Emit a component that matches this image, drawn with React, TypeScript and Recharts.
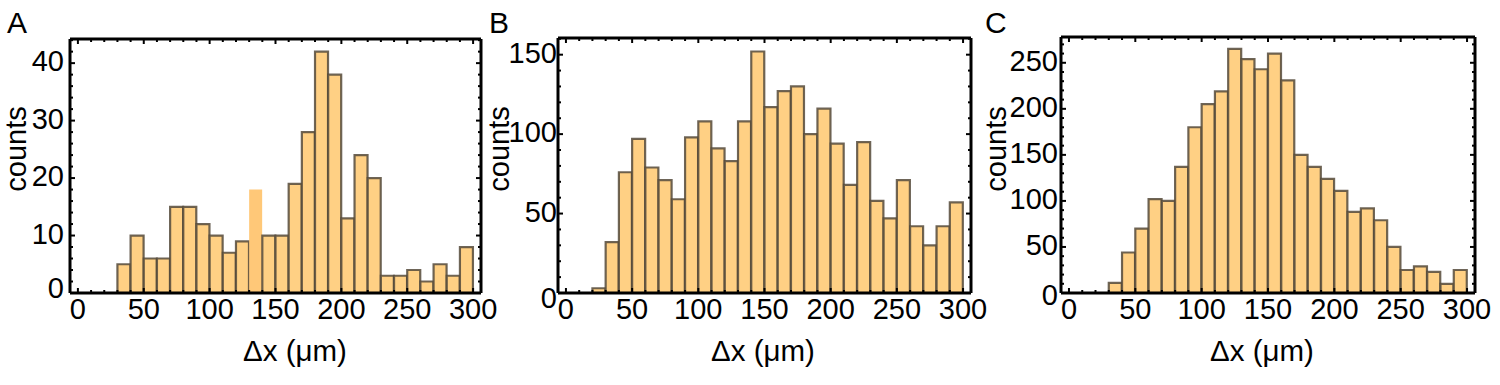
import React from 'react';
import { BarChart, Bar, XAxis, YAxis, Cell } from 'recharts';

// bin left edges (µm), bins are 10 µm wide
const binStartsA = [30, 40, 50, 60, 70, 80, 90, 100, 110, 120, 130, 140, 150, 160, 170, 180, 190, 200, 210, 220, 230, 240, 250, 260, 270, 280, 290];
const countsA = [5, 10, 6, 6, 15, 15, 12, 10, 7, 9, 18, 10, 10, 19, 28, 42, 38, 13, 24, 20, 3, 3, 4, 2, 5, 3, 8];
const unframedBinsA = [130];

const binStartsB = [20, 30, 40, 50, 60, 70, 80, 90, 100, 110, 120, 130, 140, 150, 160, 170, 180, 190, 200, 210, 220, 230, 240, 250, 260, 270, 280, 290];
const countsB = [3, 32, 76, 97, 79, 71, 59, 98, 108, 91, 83, 108, 152, 117, 127, 130, 100, 116, 94, 68, 95, 58, 47, 71, 42, 30, 42, 57];

const binStartsC = [30, 40, 50, 60, 70, 80, 90, 100, 110, 120, 130, 140, 150, 160, 170, 180, 190, 200, 210, 220, 230, 240, 250, 260, 270, 280, 290];
const countsC = [11, 44, 70, 102, 100, 137, 180, 205, 219, 265, 254, 243, 260, 231, 150, 137, 124, 111, 88, 92, 79, 50, 25, 29, 23, 10, 25];

const xTicks = [0, 50, 100, 150, 200, 250, 300];
const xMinorTicks = [0, 10, 20, 30, 40, 50, 60, 70, 80, 90, 100, 110, 120, 130, 140, 150, 160, 170, 180, 190, 200, 210, 220, 230, 240, 250, 260, 270, 280, 290, 300];

const yTicksA = [0, 10, 20, 30, 40];
const yMinorA = [0, 2, 4, 6, 8, 10, 12, 14, 16, 18, 20, 22, 24, 26, 28, 30, 32, 34, 36, 38, 40, 42, 44];
const yTicksB = [0, 50, 100, 150];
const yMinorB = [0, 10, 20, 30, 40, 50, 60, 70, 80, 90, 100, 110, 120, 130, 140, 150, 160];
const yTicksC = [0, 50, 100, 150, 200, 250];
const yMinorC = [0, 10, 20, 30, 40, 50, 60, 70, 80, 90, 100, 110, 120, 130, 140, 150, 160, 170, 180, 190, 200, 210, 220, 230, 240, 250, 260, 270];

const xDomain = [-6, 306];
const FONT = '"Liberation Sans", Arial, Helvetica, sans-serif';
const FILL = '#FFD084';
const EDGE = '#554a3b';
const H = 385;

type Box = { left: number; right: number; top: number; bottom: number };

interface PanelProps {
  offset: number;
  width: number;
  box: Box;
  starts: number[];
  counts: number[];
  unframed?: number[];
  yDomain: number[];
  yTicks: number[];
  yMinor: number[];
  xLabelX: number;
  yLabelX: number;
  yTickGap: number;
  zeroDy: number;
}

const tickText = { fontFamily: FONT, fontSize: 29, fill: '#000' };

const Panel: React.FC<PanelProps> = ({ offset, width, box, starts, counts, unframed = [], yDomain, yTicks, yMinor, xLabelX, yLabelX, yTickGap, zeroDy }) => {
  const data = starts.map((s, i) => ({ x: s + 5, start: s, count: counts[i] }));

  const bottomTick = (p: any) => {
    const major = xTicks.includes(p.payload.value);
    return (
      <g>
        <line x1={p.x} x2={p.x} y1={p.y} y2={p.y - (major ? 5 : 3)} stroke="#000" strokeWidth={2} />
        {major && (
          <text x={p.x} y={p.y + 26} textAnchor="middle" {...tickText}>
            {p.payload.value}
          </text>
        )}
      </g>
    );
  };
  const topTick = (p: any) => {
    const major = xTicks.includes(p.payload.value);
    return <line x1={p.x} x2={p.x} y1={p.y} y2={p.y + (major ? 5 : 3)} stroke="#000" strokeWidth={2} />;
  };
  const leftTick = (p: any) => {
    const major = yTicks.includes(p.payload.value);
    return (
      <g>
        <line x1={p.x} x2={p.x + (major ? 5 : 3)} y1={p.y} y2={p.y} stroke="#000" strokeWidth={2} />
        {major && (
          <text x={p.x - yTickGap} y={p.y + (p.payload.value === 0 ? zeroDy : 8)} textAnchor="end" {...tickText}>
            {p.payload.value}
          </text>
        )}
      </g>
    );
  };
  const rightTick = (p: any) => {
    const major = yTicks.includes(p.payload.value);
    return <line x1={p.x} x2={p.x - (major ? 5 : 3)} y1={p.y} y2={p.y} stroke="#000" strokeWidth={2} />;
  };

  const frame = { stroke: '#000', strokeWidth: 3 };

  return (
    <div style={{ position: 'absolute', left: offset, top: 0 }}>
      <BarChart
        width={width}
        height={H}
        data={data}
        barCategoryGap={0}
        barGap={0}
        margin={{ top: box.top - 1, right: width - box.right - 1, bottom: 0, left: 0 }}
      >
        <XAxis
          xAxisId="b"
          type="number"
          dataKey="x"
          domain={xDomain}
          allowDataOverflow
          ticks={xMinorTicks}
          interval={0}
          tickLine={false}
          tickSize={0}
          tickMargin={0}
          height={H - box.bottom}
          axisLine={frame}
          tick={bottomTick}
          label={() => (
            <text x={xLabelX} y={361} textAnchor="middle" fontFamily={FONT} fontSize={29.5} fill="#000">
              Δx (μm)
            </text>
          )}
        />
        <XAxis
          xAxisId="t"
          orientation="top"
          type="number"
          dataKey="x"
          domain={xDomain}
          allowDataOverflow
          ticks={xMinorTicks}
          interval={0}
          tickLine={false}
          tickSize={0}
          tickMargin={0}
          height={1}
          axisLine={frame}
          tick={topTick}
        />
        <YAxis
          yAxisId="l"
          type="number"
          domain={yDomain}
          allowDataOverflow
          ticks={yMinor}
          interval={0}
          tickLine={false}
          tickSize={0}
          tickMargin={0}
          width={box.left}
          axisLine={frame}
          tick={leftTick}
          label={() => (
            <text
              x={yLabelX}
              y={149}
              transform={`rotate(-90, ${yLabelX}, 149)`}
              textAnchor="middle"
              fontFamily={FONT}
              fontSize={29}
              fill="#000"
            >
              counts
            </text>
          )}
        />
        <YAxis
          yAxisId="r"
          orientation="right"
          type="number"
          domain={yDomain}
          allowDataOverflow
          ticks={yMinor}
          interval={0}
          tickLine={false}
          tickSize={0}
          tickMargin={0}
          width={1}
          axisLine={frame}
          tick={rightTick}
        />
        <Bar xAxisId="b" yAxisId="l" dataKey="count" isAnimationActive={false}>
          {data.map((d) =>
            unframed.includes(d.start) ? (
              <Cell key={d.start} fill="#FFC878" stroke="none" />
            ) : (
              <Cell key={d.start} fill={FILL} stroke={EDGE} strokeWidth={2.2} strokeOpacity={0.85} />
            )
          )}
        </Bar>
      </BarChart>
    </div>
  );
};

const App: React.FC = () => {
  return (
    <div style={{ position: 'absolute', left: 0, top: 0, width: 1500, height: 385, background: '#fff' }}>
      <Panel
        offset={0}
        width={500}
        box={{ left: 70, right: 481, top: 39, bottom: 293 }}
        starts={binStartsA}
        counts={countsA}
        unframed={unframedBinsA}
        yDomain={[0, 44.2]}
        yTicks={yTicksA}
        yMinor={yMinorA}
        xLabelX={295}
        yLabelX={26}
        yTickGap={6}
        zeroDy={5}
      />
      <Panel
        offset={470}
        width={520}
        box={{ left: 88, right: 501, top: 38, bottom: 293 }}
        starts={binStartsB}
        counts={countsB}
        yDomain={[0, 160.5]}
        yTicks={yTicksB}
        yMinor={yMinorB}
        xLabelX={293}
        yLabelX={39}
        yTickGap={1}
        zeroDy={15}
      />
      <Panel
        offset={960}
        width={540}
        box={{ left: 101, right: 515, top: 37, bottom: 293 }}
        starts={binStartsC}
        counts={countsC}
        yDomain={[0, 278]}
        yTicks={yTicksC}
        yMinor={yMinorC}
        xLabelX={302}
        yLabelX={46}
        yTickGap={3}
        zeroDy={12}
      />
      <svg width={1500} height={385} style={{ position: 'absolute', left: 0, top: 0, pointerEvents: 'none' }}>
        <text x={7} y={33} fontFamily={FONT} fontSize={30} fill="#000">A</text>
        <text x={489} y={33} fontFamily={FONT} fontSize={30} fill="#000">B</text>
        <text x={985} y={33} fontFamily={FONT} fontSize={30} fill="#000">C</text>
      </svg>
    </div>
  );
};

export default App;
